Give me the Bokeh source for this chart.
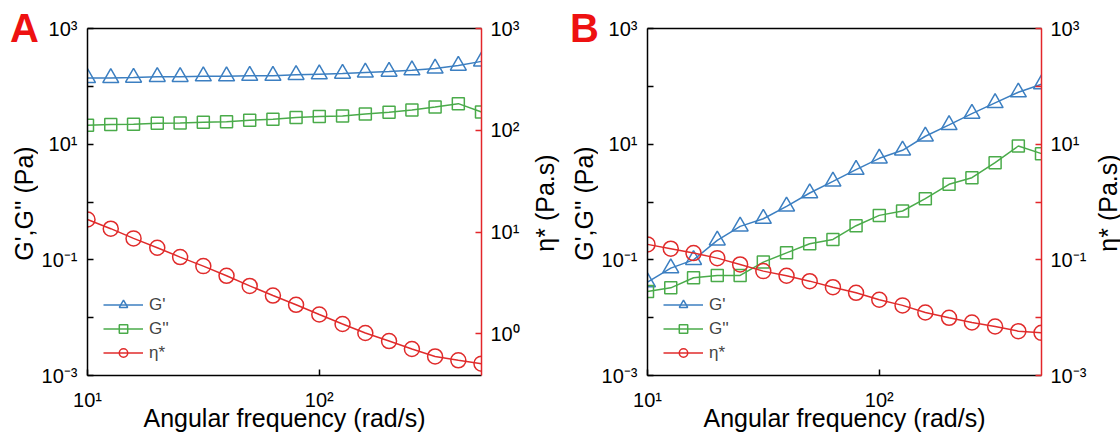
from bokeh.plotting import figure
from bokeh.models import (Range1d, LogScale, LogAxis, FixedTicker,
                          CustomJSTickFormatter)
from bokeh.core.properties import value
from bokeh.layouts import row, column
from bokeh.embed import file_html
from bokeh.resources import INLINE

# ---------------- data ----------------
freq = [10, 12.6, 15.8, 20.0, 25.1, 31.6, 39.8, 50.1, 63.1, 79.4,
        100, 126, 158, 200, 251, 316, 398, 501]

a_g1 = [140, 140, 142, 146, 146, 150, 150, 153, 153, 158,
        162, 166, 174, 180, 190, 204, 229, 270]
a_g2 = [21.2, 21.8, 22.1, 23.0, 23.3, 23.9, 24.5, 25.9, 26.9, 28.8,
        30.0, 30.8, 33.3, 35.6, 39.1, 44.0, 50.2, 36.0]
a_eta = [13.3, 10.8, 8.67, 7.02, 5.68, 4.63, 3.72, 2.96, 2.38, 1.93,
         1.55, 1.25, 1.02, 0.85, 0.71, 0.60, 0.55, 0.51]

b_g1 = [0.041, 0.072, 0.10, 0.217, 0.379, 0.514, 0.84, 1.43, 2.27, 3.62,
        5.69, 7.83, 13.7, 21.5, 33.8, 51.7, 79.0, 109]
b_g2 = [0.0284, 0.0328, 0.049, 0.0537, 0.0537, 0.0914, 0.132, 0.19, 0.225, 0.389,
        0.587, 0.698, 1.14, 2.02, 2.63, 4.79, 9.3, 6.86]
b_eta = [0.185, 0.156, 0.131, 0.107, 0.0832, 0.0638, 0.053, 0.0428, 0.0337, 0.0269,
         0.0204, 0.0163, 0.0123, 0.00993, 0.00824, 0.00703, 0.00584, 0.00546]

x_ticks = [10, 100]
left_ticks = [1e-3, 1e-2, 1e-1, 1, 10, 100, 1000]
a_eta_ticks = [1, 10, 100, 1000]
b_eta_ticks = [1e-3, 1e-2, 1e-1, 1, 10, 100, 1000]

x_title = "Angular frequency (rad/s)"
left_title = "G',G'' (Pa)"
right_title = "η* (Pa.s)"

BLUE = "#3c7fc1"
GREEN = "#4aab4a"
RED = "#e02b2b"
AXRED = "#e3262a"
LETTER_RED = "#ee1111"
FONT = "Liberation Sans"

H = 437
LEFT_STRIP = 38
RIGHT_STRIP = 29

SUP_CODE = """
const sup = {"-":"\\u207b","0":"\\u2070","1":"\\u00b9","2":"\\u00b2","3":"\\u00b3",
             "4":"\\u2074","5":"\\u2075","6":"\\u2076","7":"\\u2077","8":"\\u2078","9":"\\u2079"};
const e = Math.round(Math.log10(tick));
if (SKIP && Math.abs(e) % 2 == 0) { return ""; }
return "10" + String(e).split("").map(c => sup[c]).join("");
"""


def fmt(skip):
    return CustomJSTickFormatter(code=SUP_CODE.replace("SKIP", "true" if skip else "false"))


def style_axis(ax, line_color="black"):
    ax.axis_line_color = line_color
    ax.axis_line_width = 1.5
    ax.major_tick_line_color = line_color
    ax.major_tick_line_width = 1.5
    ax.major_tick_in = 6
    ax.major_tick_out = 0
    ax.minor_tick_line_color = None
    ax.major_label_text_font = FONT
    ax.major_label_text_font_size = "20px"
    ax.major_label_text_color = "black"
    ax.axis_label_text_font = FONT
    ax.axis_label_text_font_size = "25px"
    ax.axis_label_text_font_style = "normal"
    ax.axis_label_text_color = "black"


def strip(width):
    s = figure(frame_width=width, frame_height=H, x_range=Range1d(0, width), y_range=Range1d(0, H),
               x_axis_location=None, y_axis_location=None,
               output_backend="svg", toolbar_location=None,
               min_border=0, outline_line_color=None,
               background_fill_color="white", border_fill_color="white")
    s.xgrid.visible = False
    s.ygrid.visible = False
    return s


def left_strip(letter):
    s = strip(LEFT_STRIP)
    s.text(x=[24], y=[H - 27.5], text=[letter], text_align="center",
           text_baseline="middle", text_font=value(FONT),
           text_font_size=value("40px"), text_font_style="bold",
           text_color=LETTER_RED)
    s.text(x=[23.5], y=[H - 203], text=[left_title], angle=90, angle_units="deg",
           text_align="center", text_baseline="middle", text_font=value(FONT),
           text_font_size=value("25px"), text_color="black")
    return column(s)


def right_strip(xc):
    s = strip(RIGHT_STRIP)
    s.text(x=[xc], y=[H - 202.5], text=[right_title], angle=90, angle_units="deg",
           text_align="center", text_baseline="middle", text_font=value(FONT),
           text_font_size=value("25px"), text_color="black")
    return column(s)


def make_panel(g1, g2, eta, eta_range, eta_ticks, eta_skip):
    p = figure(frame_width=394, frame_height=347,
               x_axis_type="log", y_axis_type="log",
               x_range=Range1d(10, 501), y_range=Range1d(1e-3, 1e3),
               output_backend="svg", toolbar_location=None,
               min_border_left=49, min_border_right=50,
               min_border_top=28, min_border_bottom=62,
               outline_line_color=None, background_fill_color="white",
               border_fill_color="white")
    p.extra_y_ranges = {"eta": Range1d(*eta_range)}
    p.extra_y_scales = {"eta": LogScale()}
    p.xgrid.visible = False
    p.ygrid.visible = False

    xa = p.xaxis[0]
    style_axis(xa)
    xa.ticker = FixedTicker(ticks=x_ticks)
    xa.formatter = fmt(False)
    xa.major_label_standoff = 13
    xa.axis_label = x_title
    xa.axis_label_standoff = -10

    ya = p.yaxis[0]
    style_axis(ya)
    ya.ticker = FixedTicker(ticks=left_ticks)
    ya.formatter = fmt(True)
    ya.major_label_standoff = 10

    ra = LogAxis(y_range_name="eta")
    style_axis(ra, AXRED)
    ra.ticker = FixedTicker(ticks=eta_ticks)
    ra.formatter = fmt(eta_skip)
    ra.major_label_standoff = 9
    p.add_layout(ra, "right")

    ta = LogAxis(ticker=FixedTicker(ticks=[]))
    ta.axis_line_color = "black"
    ta.axis_line_width = 1.5
    ta.major_tick_line_color = None
    ta.minor_tick_line_color = None
    ta.major_label_text_font_size = "0px"
    p.add_layout(ta, "above")

    p.line(freq, g1, line_color=BLUE, line_width=1.5, legend_label="G'")
    p.scatter(freq, g1, marker="triangle", size=16, line_color=BLUE,
              fill_color=None, line_width=1.5, legend_label="G'")
    p.line(freq, g2, line_color=GREEN, line_width=1.5, legend_label="G''")
    p.scatter(freq, g2, marker="square", size=12, line_color=GREEN,
              fill_color=None, line_width=1.5, legend_label="G''")
    p.line(freq, eta, line_color=RED, line_width=1.5, legend_label="η*",
           y_range_name="eta")
    p.scatter(freq, eta, marker="circle", size=15, line_color=RED,
              fill_color=None, line_width=1.5, legend_label="η*",
              y_range_name="eta")

    lg = p.legend[0]
    lg.location = (16, 12)
    lg.padding = 0
    lg.margin = 0
    lg.spacing = 3
    lg.label_height = 21
    lg.glyph_height = 21
    lg.glyph_width = 40
    lg.label_standoff = 6
    lg.label_text_font = FONT
    lg.label_text_font_size = "17px"
    lg.border_line_color = None
    lg.background_fill_alpha = 0
    return p


pA = make_panel(a_g1, a_g2, a_eta, (0.39, 1000), a_eta_ticks, False)
pB = make_panel(b_g1, b_g2, b_eta, (1e-3, 1e3), b_eta_ticks, True)

layout = row(left_strip("A"), pA, right_strip(13),
             left_strip("B"), pB, right_strip(16))
open("out.html", "w").write(file_html(layout, INLINE))
